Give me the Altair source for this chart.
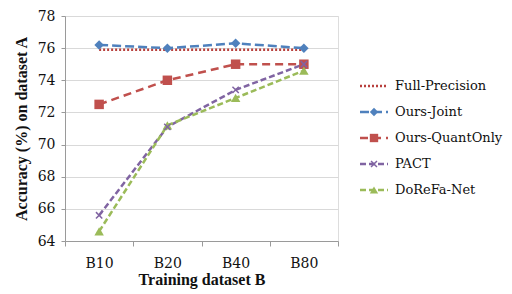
import altair as alt
import pandas as pd

cats = ["B10", "B20", "B40", "B80"]
names = ["Full-Precision", "Ours-Joint", "Ours-QuantOnly", "PACT", "DoReFa-Net"]
full_precision = [75.9, 75.9, 75.9, 75.9]
ours_joint = [76.2, 76.0, 76.3, 76.0]
ours_quant = [72.5, 74.0, 75.0, 75.0]
pact = [65.6, 71.1, 73.4, 75.0]
dorefa = [64.6, 71.2, 72.9, 74.6]
colors = ["#B8403D", "#4F81BD", "#C0504D", "#8064A2", "#9BBB59"]
dashes = [[2, 2], [9, 4], [8, 5], [6, 3], [6, 3]]
shapes = ["circle", "diamond", "square", "M-1,-1L1,1M-1,1L1,-1", "triangle-up"]

series_vals = [full_precision, ours_joint, ours_quant, pact, dorefa]
rows = []
for n, vals in zip(names, series_vals):
    for c, v in zip(cats, vals):
        rows.append({"cat": c, "series": n, "value": v})
df = pd.DataFrame(rows)
leg_df = pd.DataFrame({"series": names})

FONT = "Times New Roman"
RFONT = "DejaVu Serif"

color_enc = alt.Color("series:N", scale=alt.Scale(domain=names, range=colors), legend=None)
dash_enc = alt.StrokeDash("series:N", scale=alt.Scale(domain=names, range=dashes), legend=None)
shape_enc = alt.Shape("series:N", scale=alt.Scale(domain=names, range=shapes), legend=None)

X = alt.X("cat:N", sort=cats,
          scale=alt.Scale(domain=cats, paddingInner=0, paddingOuter=0),
          axis=alt.Axis(title="Training dataset B", labelAngle=0, tickBand="extent",
                        grid=False, domainColor="#9a9a9a", tickColor="#9a9a9a",
                        tickSize=5, labelFont=RFONT, labelFontSize=14, labelColor="#111",
                        labelPadding=10, titleFont=FONT, titleFontSize=16,
                        titleFontWeight="bold", titleColor="#111", titlePadding=1))
Y = alt.Y("value:Q", scale=alt.Scale(domain=[64, 78], nice=False),
          axis=alt.Axis(title="Accuracy (%) on dataset A", values=list(range(64, 79, 2)),
                        grid=True, gridColor="#D9D9D9", domainColor="#9a9a9a",
                        tickColor="#9a9a9a", tickSize=4, labelFont=RFONT, labelFontSize=14,
                        labelColor="#111", labelPadding=6, titleFont=FONT, titleFontSize=16,
                        titleFontWeight="bold", titleColor="#111", titlePadding=8))

base = alt.Chart(df)
lines = base.mark_line(strokeWidth=2.5).encode(x=X, y=Y, color=color_enc, strokeDash=dash_enc)
filled_pts = base.transform_filter(
    alt.FieldOneOfPredicate(field="series", oneOf=["Ours-Joint", "Ours-QuantOnly", "DoReFa-Net"])
).mark_point(filled=True, opacity=1, size=90).encode(x=X, y=Y, color=color_enc, shape=shape_enc)
pact_pts = base.transform_filter(alt.datum.series == "PACT").mark_point(
    filled=False, opacity=1, size=40, strokeWidth=1.5
).encode(x=X, y=Y, color=color_enc, shape=shape_enc)

main = alt.layer(lines, filled_pts, pact_pts)

LY = alt.Y("series:N", scale=alt.Scale(type="point", domain=names, range=[70, 174], padding=0), axis=None)
lbase = alt.Chart(leg_df)
l_rule = lbase.mark_rule(strokeWidth=2.5).encode(
    x=alt.value(295), x2=alt.value(323), y=LY, color=color_enc, strokeDash=dash_enc)
l_pts = lbase.transform_filter(
    alt.FieldOneOfPredicate(field="series", oneOf=["Ours-Joint", "Ours-QuantOnly", "DoReFa-Net"])
).mark_point(filled=True, opacity=1, size=70).encode(x=alt.value(309), y=LY, color=color_enc, shape=shape_enc)
l_pact = lbase.transform_filter(alt.datum.series == "PACT").mark_point(
    filled=False, opacity=1, size=35, strokeWidth=1.5
).encode(x=alt.value(309), y=LY, color=color_enc, shape=shape_enc)
l_text = lbase.mark_text(align="left", baseline="middle", font=RFONT, fontSize=13, color="#111").encode(
    x=alt.value(330), y=LY, text="series:N")
leg = alt.layer(l_rule, l_pts, l_pact, l_text)

chart = alt.layer(main, leg).resolve_scale(y="independent", x="independent").properties(
    width=273, height=225,
    autosize=alt.AutoSizeParams(type="none"),
    padding={"left": 57, "top": 8, "right": 166, "bottom": 50},
).configure_view(stroke=None).configure(background="white", font=FONT)

chart.save("out.html", embed_options={"renderer": "svg", "actions": False})
